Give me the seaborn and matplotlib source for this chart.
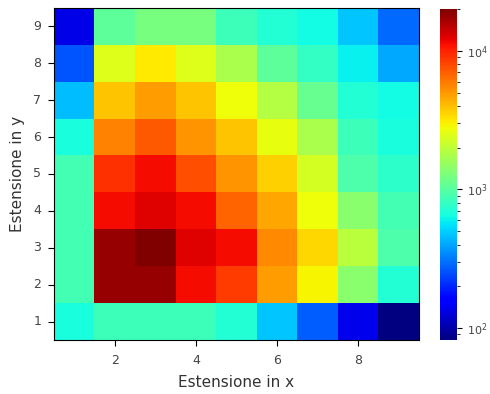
import numpy as np
import pandas as pd
import matplotlib
matplotlib.use('Agg')
import matplotlib.pyplot as plt
from matplotlib.colors import LogNorm
import seaborn as sns

# assi della griglia
x_vals = [1, 2, 3, 4, 5, 6, 7, 8, 9]
y_vals = [9, 8, 7, 6, 5, 4, 3, 2, 1]   # righe dall'alto in basso

# conteggi per cella (righe y=9 ... y=1, colonne x=1 ... 9)
row_y9 = [137, 1054, 1249, 1249, 840, 709, 633, 477, 286]
row_y8 = [256, 2465, 3091, 2465, 1754, 1054, 794, 598, 402]
row_y7 = [451, 3875, 4859, 3875, 2761, 1857, 1115, 709, 633]
row_y6 = [670, 5757, 7219, 5141, 3875, 2609, 1754, 840, 670]
row_y5 = [889, 9051, 11358, 7639, 5141, 3662, 2329, 941, 750]
row_y4 = [889, 11358, 12700, 11358, 6822, 4592, 2761, 1399, 889]
row_y3 = [889, 17870, 20013, 12700, 11358, 5440, 3461, 1965, 941]
row_y2 = [889, 17870, 17870, 11358, 8553, 4859, 2921, 1399, 709]
row_y1 = [670, 840, 840, 840, 709, 477, 270, 140, 82]

df = pd.DataFrame([row_y9, row_y8, row_y7, row_y6, row_y5,
                   row_y4, row_y3, row_y2, row_y1],
                  index=y_vals, columns=x_vals)

fig = plt.figure(figsize=(4.9, 3.94), dpi=100)
ax = fig.add_axes([0.110, 0.137, 0.745, 0.843])
cax = fig.add_axes([0.898, 0.137, 0.035, 0.840])

sns.heatmap(df, ax=ax, cbar_ax=cax, cmap='jet',
            norm=LogNorm(vmin=df.values.min(), vmax=df.values.max()))

# tick numerici come nell'originale
ax.set_xticks([1.5, 3.5, 5.5, 7.5])
ax.set_xticklabels(['2', '4', '6', '8'], rotation=0, fontsize=9, color='#444444')
ax.set_yticks([i + 0.5 for i in range(9)])
ax.set_yticklabels([str(v) for v in y_vals], rotation=0, fontsize=9, color='#444444')
ax.tick_params(axis='x', length=4, pad=6)
ax.tick_params(axis='y', length=4, pad=5)
for s in ax.spines.values():
    s.set_visible(True)
    s.set_linewidth(0.8)

ax.set_xlabel("Estensione in x", fontsize=11, labelpad=6, color='#333333')
ax.set_ylabel("Estensione in y", fontsize=11, labelpad=6, color='#333333')

cax.tick_params(labelsize=8, labelcolor='#444444')

fig.savefig("out.png", dpi=100)
